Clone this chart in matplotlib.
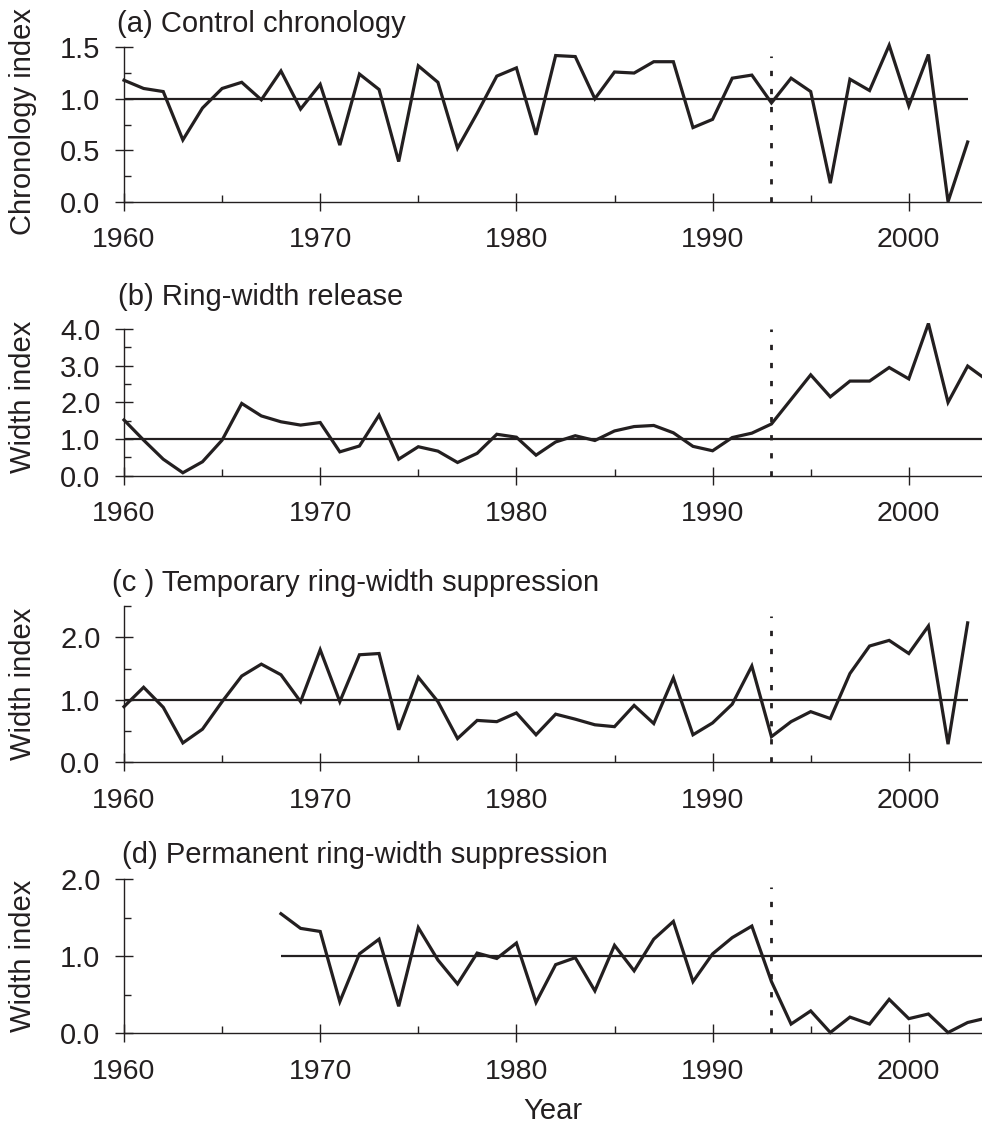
import matplotlib
matplotlib.use("Agg")
import matplotlib.pyplot as plt
from matplotlib.ticker import MultipleLocator, FormatStrFormatter

plt.rcParams['font.family'] = ['Liberation Sans', 'DejaVu Sans']

# ---------------- data ----------------
years_a = list(range(1960, 2004))
control = [1.18, 1.10, 1.07, 0.60, 0.91, 1.10, 1.16, 0.99, 1.27, 0.90,
           1.14, 0.55, 1.24, 1.09, 0.39, 1.32, 1.16, 0.52, 0.86, 1.22,
           1.30, 0.65, 1.42, 1.41, 1.00, 1.26, 1.25, 1.36, 1.36, 0.72,
           0.80, 1.20, 1.23, 0.96, 1.20, 1.07, 0.18, 1.19, 1.08, 1.52,
           0.93, 1.43, 0.00, 0.58]

years_b = list(range(1960, 2005))
release = [1.52, 0.97, 0.45, 0.08, 0.38, 0.97, 1.97, 1.63, 1.47, 1.38,
           1.45, 0.65, 0.81, 1.65, 0.45, 0.79, 0.67, 0.36, 0.61, 1.13,
           1.05, 0.56, 0.92, 1.09, 0.96, 1.22, 1.34, 1.37, 1.17, 0.80,
           0.68, 1.04, 1.16, 1.41, 2.08, 2.75, 2.15, 2.58, 2.58, 2.95,
           2.64, 4.15, 2.00, 2.99, 2.60]

years_c = list(range(1960, 2004))
temporary = [0.89, 1.20, 0.88, 0.31, 0.53, 0.97, 1.38, 1.57, 1.40, 0.97,
             1.80, 0.97, 1.72, 1.74, 0.52, 1.36, 0.97, 0.38, 0.67, 0.65,
             0.79, 0.44, 0.77, 0.69, 0.60, 0.57, 0.91, 0.62, 1.35, 0.44,
             0.63, 0.93, 1.54, 0.41, 0.65, 0.81, 0.70, 1.42, 1.86, 1.95,
             1.74, 2.18, 0.29, 2.23]

years_d = list(range(1968, 2005))
permanent = [1.55, 1.36, 1.32, 0.41, 1.03, 1.22, 0.35, 1.37, 0.95, 0.64,
             1.04, 0.97, 1.17, 0.40, 0.89, 0.98, 0.55, 1.14, 0.81, 1.22,
             1.45, 0.67, 1.03, 1.24, 1.39, 0.67, 0.12, 0.29, 0.01, 0.21,
             0.12, 0.44, 0.19, 0.25, 0.01, 0.14, 0.20]

titles = ["(a) Control chronology", "(b) Ring-width release",
          "(c ) Temporary ring-width suppression",
          "(d) Permanent ring-width suppression"]
ylabels = ["Chronology index", "Width index", "Width index", "Width index"]
x_ticks = [1960, 1970, 1980, 1990, 2000]
event_year = 1993
reference_level = 1.0

# ---------------- layout / style ----------------
W, H = 982, 1126
fig = plt.figure(figsize=(W / 100, H / 100), dpi=100)
ink = '#231f20'

def px_axes(top, bottom):
    left, right = 124, 982
    return [left / W, 1 - bottom / H, (right - left) / W, (bottom - top) / H]

panels = [
    dict(x=years_a, y=control, rect=px_axes(47.3, 201.7), ylim=(0, 1.5),
         major=0.5, minor=0.25, vtop=1.42, title_xy=(117, 32), ylab_y=0.52),
    dict(x=years_b, y=release, rect=px_axes(329, 475.7), ylim=(0, 4.0),
         major=1.0, minor=0.5, vtop=4.0, title_xy=(118, 305), ylab_y=0.54),
    dict(x=years_c, y=temporary, rect=px_axes(606, 762.3), ylim=(0, 2.5),
         major=1.0, minor=0.5, vtop=2.34, title_xy=(112, 591), ylab_y=0.5),
    dict(x=years_d, y=permanent, rect=px_axes(879, 1033.3), ylim=(0, 2.0),
         major=1.0, minor=0.5, vtop=1.90, title_xy=(122, 863), ylab_y=0.5),
]

fs = 21
fs_x = 20.5
for i, p in enumerate(panels):
    ax = fig.add_axes(p['rect'])
    ax.plot(p['x'], p['y'], color=ink, lw=2.3, clip_on=False,
            solid_joinstyle='miter', zorder=3)
    ax.hlines(reference_level, min(p['x']), max(p['x']), color=ink,
              lw=1.6, clip_on=False, zorder=2)
    ax.vlines(event_year, 0, p['vtop'], color=ink, lw=2.0,
              linestyles=(0, (1.9, 4.6)), clip_on=False, zorder=2)
    ax.set_xlim(1960, 1960 + 858 / 19.62)
    ax.set_ylim(*p['ylim'])
    for s in ['top', 'right']:
        ax.spines[s].set_visible(False)
    for s in ['left', 'bottom']:
        ax.spines[s].set_linewidth(1.0)
        ax.spines[s].set_color(ink)
    ax.set_xticks(x_ticks)
    ax.xaxis.set_minor_locator(MultipleLocator(5))
    ax.yaxis.set_major_locator(MultipleLocator(p['major']))
    ax.yaxis.set_minor_locator(MultipleLocator(p['minor']))
    ax.yaxis.set_major_formatter(FormatStrFormatter('%.1f'))
    ax.tick_params(which='major', direction='inout', length=13, width=1.0,
                   color=ink, labelcolor=ink)
    ax.tick_params(which='minor', direction='in', length=5, width=1.0, color=ink)
    ax.tick_params(axis='y', which='major', pad=10.5, labelsize=fs)
    ax.tick_params(axis='x', which='major', pad=12, labelsize=fs_x)
    ax.set_ylabel(ylabels[i], fontsize=fs, color=ink)
    ax.yaxis.set_label_coords(-0.1014, p['ylab_y'])
    tx, ty = p['title_xy']
    fig.text(tx / W, 1 - ty / H, titles[i], fontsize=fs, color=ink,
             ha='left', va='baseline')
    if i == 3:
        ax.set_xlabel("Year", fontsize=fs, color=ink, labelpad=9)

fig.savefig("out.png", dpi=100)
